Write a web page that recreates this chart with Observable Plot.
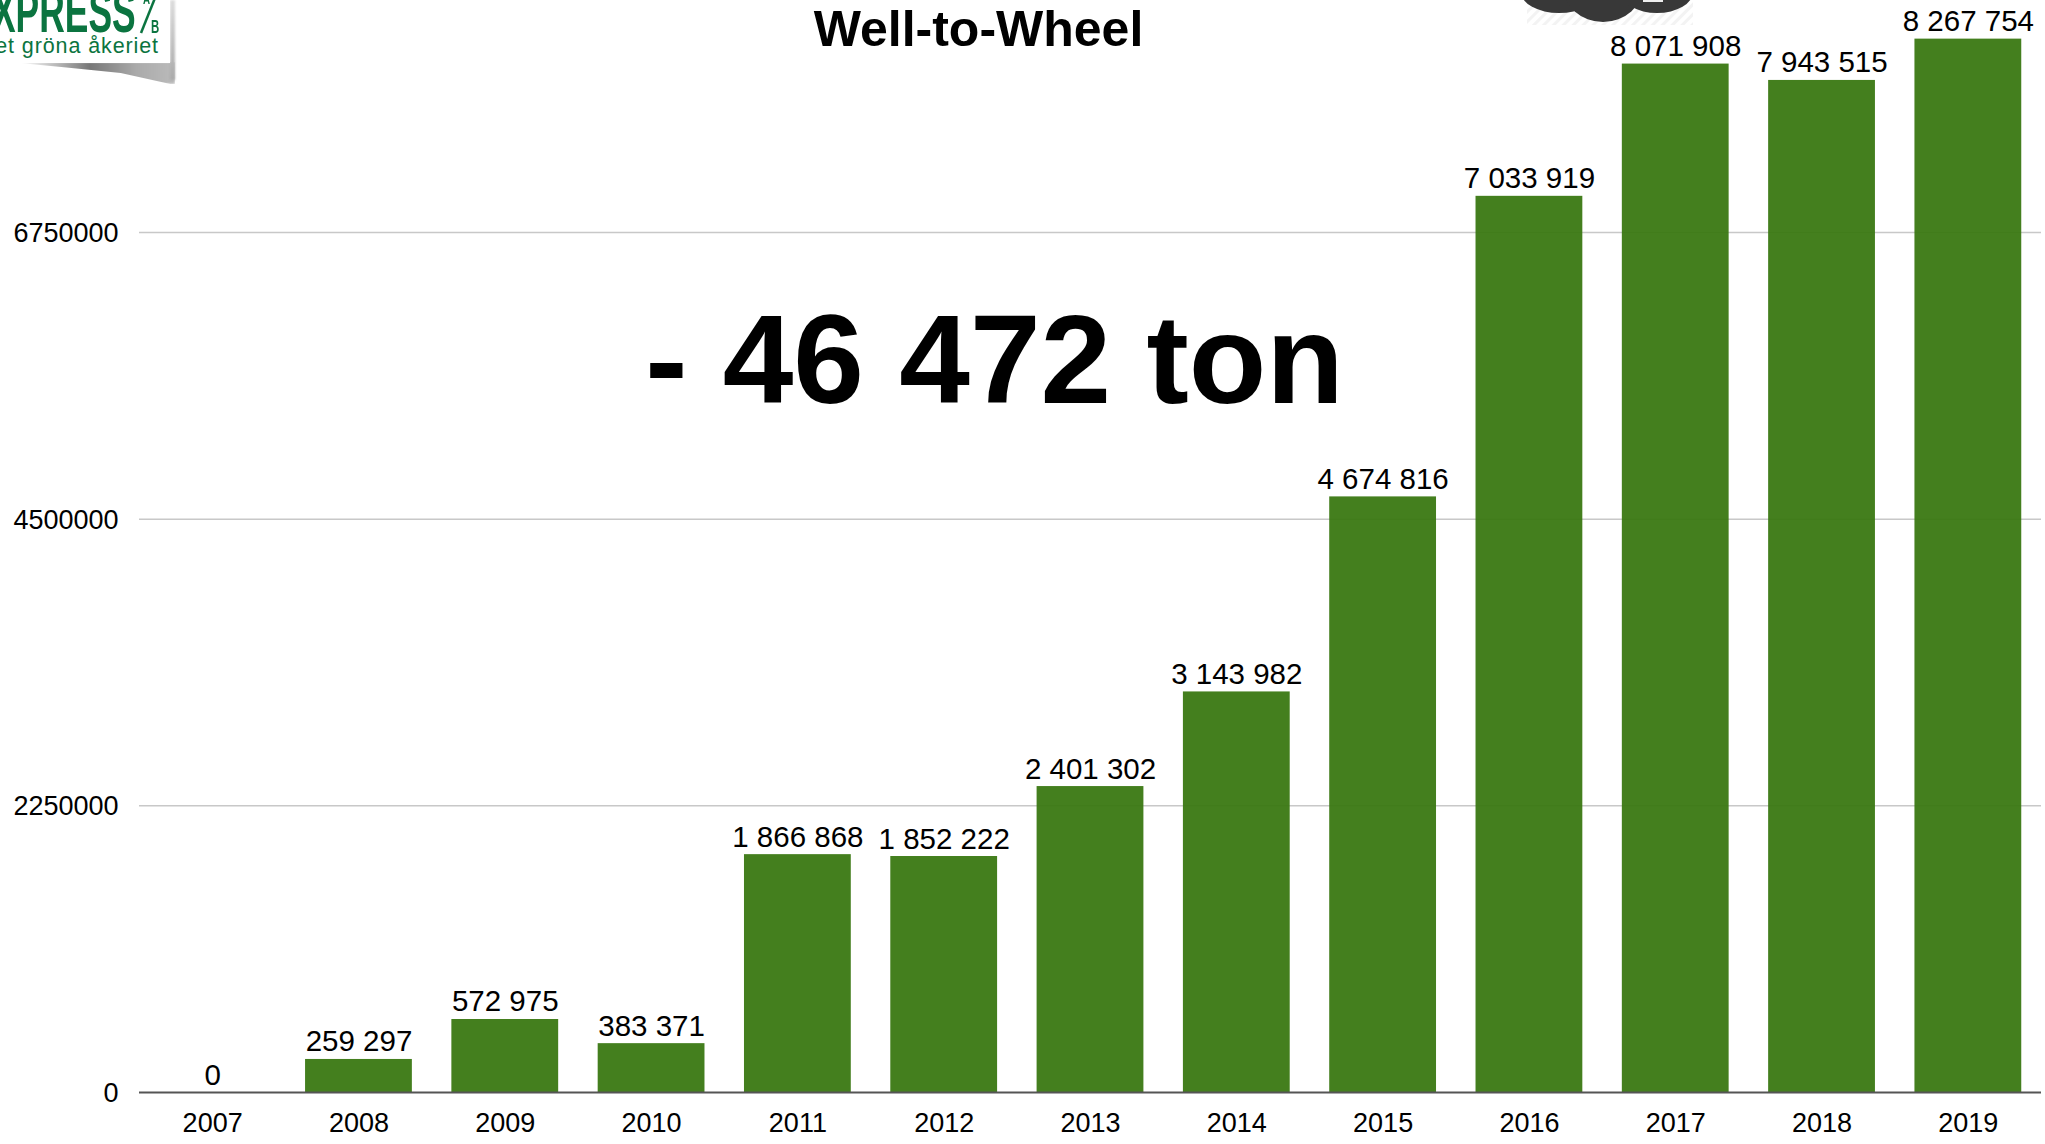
<!DOCTYPE html>
<html><head><meta charset="utf-8">
<script src="https://cdn.jsdelivr.net/npm/d3@7"></script>
<script src="https://cdn.jsdelivr.net/npm/@observablehq/plot@0.6"></script>
<style>
html,body{margin:0;padding:0;background:#fff;overflow:hidden}
#wrap{position:relative;width:2045px;height:1144px;font-family:"Liberation Sans",Arial,sans-serif}
#wrap>svg{display:block}
.logo{position:absolute;left:0;top:0;width:170px;height:63px;background:#fff;overflow:hidden;color:#0b7440;font-family:"Liberation Sans"}
.logo div{position:absolute;white-space:nowrap}
.logo .a{left:-8px;top:-23px;font-weight:bold;font-size:60px;line-height:69px;transform:scaleX(.59);transform-origin:left top}
.logo .t{left:151px;top:19px;font-weight:bold;font-size:19px;line-height:15px;transform:scaleX(.6);transform-origin:left top}
.logo .u{left:143px;top:-8px;font-weight:bold;font-size:14px;line-height:14px;transform:scaleX(.7);transform-origin:left top}
.logo .b{right:11px;top:32px;font-size:21.5px;line-height:28px;letter-spacing:.9px}
.logo svg{position:absolute;left:0;top:0}
.shadow{position:absolute;left:20px;top:62px;width:155px;height:22px;background:linear-gradient(90deg,#fff 0,#777 45%,#aaa 75%,#bbb 100%);clip-path:polygon(0 0,100% 0,100% 100%,97% 100%,65% 50%,30% 25%,0 5%);filter:blur(1px)}
.shadow2{position:absolute;left:170px;top:0;width:5px;height:80px;background:linear-gradient(180deg,#ddd,#aaa);filter:blur(1px)}
.cloud{position:absolute;left:1527px;top:0;overflow:visible}
</style></head><body>
<div id="wrap"></div>
<script>
const years = ["2007","2008","2009","2010","2011","2012","2013","2014","2015","2016","2017","2018","2019"];
const tonnes = [0,259297,572975,383371,1866868,1852222,2401302,3143982,4674816,7033919,8071908,7943515,8267754];
const yTicks = [0,2250000,4500000,6750000];
const title = "Well-to-Wheel";
const callout = "- 46 472 ton";
const rows = years.map((year,i)=>({year,value:tonnes[i]}));
const spaced = v => d3.format(",")(v).replace(/,/g," ");
const font = '"Liberation Sans",Arial,sans-serif';

const chart = Plot.plot({
  width:2045, height:1144,
  marginTop:0, marginBottom:52, marginLeft:139, marginRight:4,
  style:{background:"transparent",fontFamily:font,color:"#000",overflow:"visible"},
  x:{type:"band",domain:years,paddingInner:0.27,paddingOuter:0.135,align:0.5,round:false,label:null},
  y:{domain:[0,6750000],range:[1092,232],label:null},
  marks:[
    Plot.ruleY(yTicks.slice(1),{stroke:"#c8c8c8",strokeWidth:1.5}),
    Plot.barY(rows,{x:"year",y:"value",fill:"#3a7812",fillOpacity:0.95}),
    Plot.ruleY([0],{stroke:"#555",strokeWidth:2}),
    Plot.axisX({domain:years,tickSize:0,tickPadding:20,fontSize:27,label:null,anchor:"bottom"}),
    Plot.axisY({ticks:yTicks,tickSize:0,tickPadding:21,dy:1,fontSize:27,label:null,anchor:"left",tickFormat:d=>String(d),textAnchor:"end"}),
    Plot.text(rows,{x:"year",y:"value",text:d=>spaced(d.value),fontSize:29.5,fill:"#000",lineAnchor:"bottom",dy:-8}),
    Plot.text([title],{frameAnchor:"top-left",dx:839,dy:29,text:d=>d,fontSize:50,fontWeight:"bold",textAnchor:"middle",lineAnchor:"middle"}),
    Plot.text([callout],{frameAnchor:"top-left",dx:855,dy:362,text:d=>d,fontSize:127,fontWeight:"bold",textAnchor:"middle",lineAnchor:"middle"})
  ]
});
const wrap = document.getElementById("wrap");
wrap.appendChild(chart);
// decorative fragments cropped by the top of the slide
wrap.insertAdjacentHTML("beforeend",`
<div class="shadow"></div><div class="shadow2"></div>
<div class="logo"><svg width="170" height="63"><line x1="141" y1="33" x2="155" y2="-2" stroke="#0b7440" stroke-width="2.5"/></svg><div class="a">XPRESS</div><div class="u">A</div><div class="t">B</div><div class="b">et gröna åkeriet</div></div>
<svg class="cloud" width="166" height="25" viewBox="0 0 166 25">
<defs><pattern id="h" width="7" height="7" patternUnits="userSpaceOnUse" patternTransform="rotate(45)"><rect width="7" height="7" fill="#fff"/><rect width="3" height="7" fill="#f3f3f3"/></pattern></defs>
<rect width="166" height="25" fill="url(#h)"/>
<g fill="#383838"><ellipse cx="32" cy="-8" rx="38" ry="21"/><ellipse cx="76" cy="-14" rx="40" ry="36"/><ellipse cx="130" cy="-8" rx="36" ry="21"/></g>
<rect x="116" y="-2" width="20" height="4" fill="#eee"/></svg>`);
</script></body></html>
